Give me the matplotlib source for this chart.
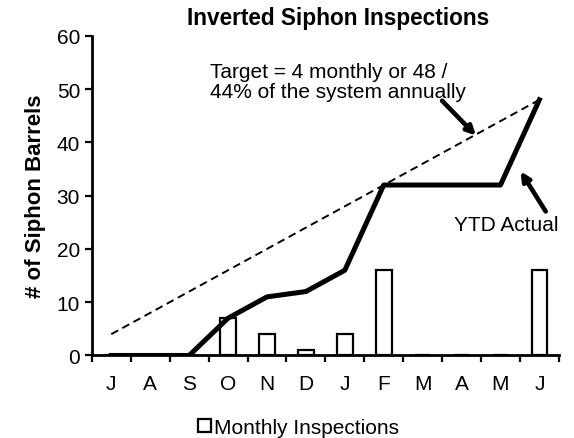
import matplotlib.pyplot as plt
import numpy as np

plt.rcParams['font.family'] = ['Liberation Sans', 'DejaVu Sans']

# data
months = ['J', 'A', 'S', 'O', 'N', 'D', 'J', 'F', 'M', 'A', 'M', 'J']
monthly = [0, 0, 0, 7, 4, 1, 4, 16, 0, 0, 0, 16]
ytd_actual = [0, 0, 0, 7, 11, 12, 16, 32, 32, 32, 32, 48]
target = [4, 8, 12, 16, 20, 24, 28, 32, 36, 40, 44, 48]

x = np.arange(len(months))

fig = plt.figure(figsize=(5.74, 4.39), dpi=100)
ax = fig.add_axes([0.160, 0.188, 0.8136, 0.728])

ax.bar(x, monthly, width=0.4, color='white', edgecolor='black', linewidth=1.6,
       label='Monthly Inspections', zorder=2)
ax.plot(x, target, color='black', linestyle='--', linewidth=1.4, dashes=(4, 2.5), zorder=3)
ax.plot(x, ytd_actual, color='black', linewidth=3.6, zorder=4)

ax.set_xlim(-0.5, len(months) - 0.5)
ax.set_ylim(0, 60)
ax.set_yticks(range(0, 61, 10))
ax.set_xticks(x)
ax.set_xticklabels(months)
ax.set_xticks(np.arange(-0.5, len(months)), minor=True)
ax.tick_params(axis='x', which='major', length=0, pad=13, labelsize=15)
ax.tick_params(axis='x', which='minor', length=5, width=1.6, direction='out')
ax.tick_params(axis='y', length=5, width=1.6, direction='out', labelsize=15)

for s in ['top', 'right']:
    ax.spines[s].set_visible(False)
for s in ['left', 'bottom']:
    ax.spines[s].set_linewidth(2)

ax.set_ylabel('# of Siphon Barrels', fontsize=16, fontweight='bold', labelpad=8)
fig.text(0.589, 0.958, 'Inverted Siphon Inspections', fontsize=16.3, fontweight='bold',
         ha='center', va='center')

ax.annotate('Target = 4 monthly or 48 /\n44% of the system annually',
            xy=(9.42, 40.9), xytext=(2.53, 51.5), fontsize=15,
            ha='left', va='center', linespacing=1.05)
ax.annotate('', xy=(9.42, 40.9), xytext=(8.45, 48.2),
            arrowprops=dict(arrowstyle='-|>', color='black', lw=3.3, mutation_scale=13))
ax.annotate('YTD Actual', xy=(10.16, 24.5), xytext=(10.16, 24.5), fontsize=15,
            ha='center', va='center')
ax.annotate('', xy=(10.48, 35.0), xytext=(11.2, 26.6),
            arrowprops=dict(arrowstyle='-|>', color='black', lw=3.3, mutation_scale=13))

fig.legend(loc='center', bbox_to_anchor=(0.52, 0.025), frameon=False,
           fontsize=15, handlelength=0.6, handletextpad=0.15, handleheight=0.6)

fig.savefig('out.png', dpi=100)
